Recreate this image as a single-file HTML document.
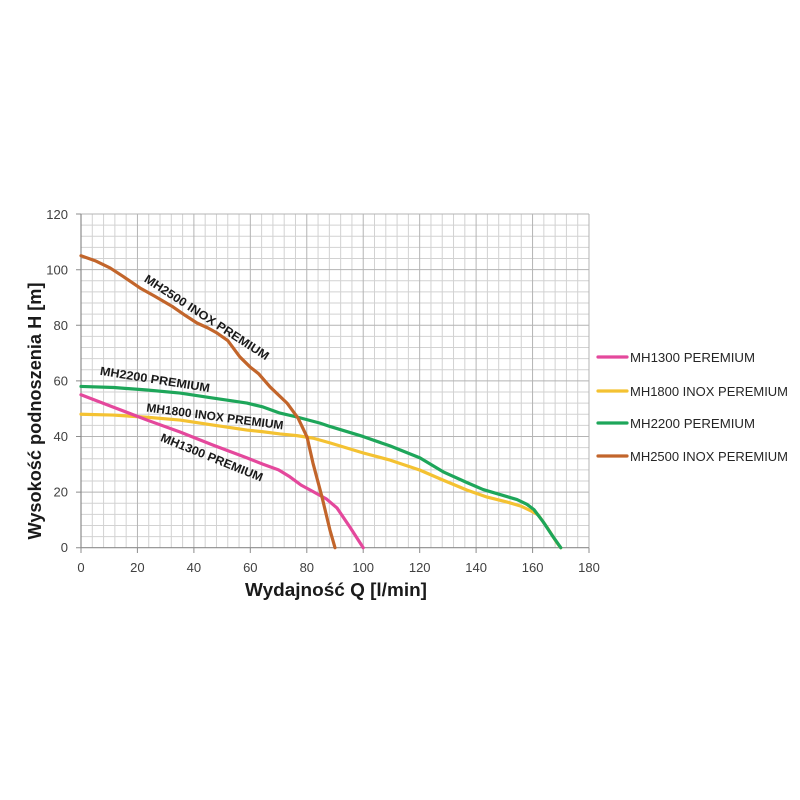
<!DOCTYPE html>
<html>
<head>
<meta charset="utf-8">
<style>
html,body{margin:0;padding:0;background:#fff;}
svg{display:block;}
text{font-family:"Liberation Sans",sans-serif;}
</style>
</head>
<body>
<svg width="800" height="800" viewBox="0 0 800 800" xmlns="http://www.w3.org/2000/svg">
<rect width="800" height="800" fill="#fff"/>
<!-- grid -->
<g transform="translate(81,547.7) scale(2.8222,-2.7808)">
  <g stroke="#d2d2d2" stroke-width="1" vector-effect="non-scaling-stroke" fill="none">
    <path vector-effect="non-scaling-stroke" d="M4 0V120M8 0V120M12 0V120M16 0V120M24 0V120M28 0V120M32 0V120M36 0V120M44 0V120M48 0V120M52 0V120M56 0V120M64 0V120M68 0V120M72 0V120M76 0V120M84 0V120M88 0V120M92 0V120M96 0V120M104 0V120M108 0V120M112 0V120M116 0V120M124 0V120M128 0V120M132 0V120M136 0V120M144 0V120M148 0V120M152 0V120M156 0V120M164 0V120M168 0V120M172 0V120M176 0V120"/>
    <path vector-effect="non-scaling-stroke" d="M0 4H180M0 8H180M0 12H180M0 16H180M0 24H180M0 28H180M0 32H180M0 36H180M0 44H180M0 48H180M0 52H180M0 56H180M0 64H180M0 68H180M0 72H180M0 76H180M0 84H180M0 88H180M0 92H180M0 96H180M0 104H180M0 108H180M0 112H180M0 116H180"/>
  </g>
  <g stroke="#b4b4b4" fill="none">
    <path vector-effect="non-scaling-stroke" stroke-width="1" d="M20 0V120M40 0V120M60 0V120M80 0V120M100 0V120M120 0V120M140 0V120M160 0V120M180 0V120"/>
    <path vector-effect="non-scaling-stroke" stroke-width="1" d="M0 20H180M0 40H180M0 60H180M0 80H180M0 100H180M0 120H180"/>
  </g>
  <g stroke="#8c8c8c" fill="none">
    <path vector-effect="non-scaling-stroke" stroke-width="1.2" d="M0 0V120M0 0H180"/>
  </g>
</g>
<!-- ticks -->
<g stroke="#8c8c8c" stroke-width="1">
  <path d="M76 547.7H81M76 492.1H81M76 436.5H81M76 380.9H81M76 325.3H81M76 269.7H81M76 214H81"/>
  <path d="M81 547.7V553M137.4 547.7V553M193.9 547.7V553M250.3 547.7V553M306.8 547.7V553M363.2 547.7V553M419.7 547.7V553M476.1 547.7V553M532.6 547.7V553M589 547.7V553"/>
</g>
<!-- y tick labels -->
<g fill="#404040" font-size="13" text-anchor="end">
  <text x="68" y="552">0</text>
  <text x="68" y="496.5">20</text>
  <text x="68" y="441">40</text>
  <text x="68" y="385.5">60</text>
  <text x="68" y="330">80</text>
  <text x="68" y="274.5">100</text>
  <text x="68" y="219">120</text>
</g>
<!-- x tick labels -->
<g fill="#404040" font-size="13" text-anchor="middle">
  <text x="81" y="572">0</text>
  <text x="137.4" y="572">20</text>
  <text x="193.9" y="572">40</text>
  <text x="250.3" y="572">60</text>
  <text x="306.8" y="572">80</text>
  <text x="363.2" y="572">100</text>
  <text x="419.7" y="572">120</text>
  <text x="476.1" y="572">140</text>
  <text x="532.6" y="572">160</text>
  <text x="589" y="572">180</text>
</g>
<!-- axis titles -->
<text x="336" y="596" text-anchor="middle" font-size="18" font-weight="bold" fill="#1a1a1a" textLength="182" lengthAdjust="spacingAndGlyphs">Wydajność Q [l/min]</text>
<text transform="translate(41,411) rotate(-90)" x="0" y="0" text-anchor="middle" font-size="18" font-weight="bold" fill="#1a1a1a" textLength="257" lengthAdjust="spacingAndGlyphs">Wysokość podnoszenia H [m]</text>
<!-- series -->
<g transform="translate(81,547.7) scale(2.8222,-2.7808)" fill="none" stroke-linejoin="round" stroke-linecap="round">
  <polyline vector-effect="non-scaling-stroke" stroke="#f4c232" stroke-width="3.2" points="0,48 11.3,47.7 23.4,46.9 35.1,45.9 46.8,44.1 58.8,42.3 64.5,41.7 70.5,40.9 76.5,40.3 82.2,39.4 88.2,37.7 99.9,34.1 109.5,31.5 120.1,27.9 128.3,24.3 136.8,20.7 143.9,18.2 151,16.4 156,14.9 159.5,13.2 162,11.8 165.1,7.4 168.7,1.7 170,0"/>
  <polyline vector-effect="non-scaling-stroke" stroke="#1ea65a" stroke-width="3.2" points="0,58 11.7,57.6 23.4,56.7 35.1,55.6 46.8,53.8 58.8,52 64.5,50.6 70.5,48.4 76.5,47 84.7,44.8 88.2,43.6 99.9,40 109.5,36.6 120.1,32.3 128.3,27.3 136.8,23.4 142.5,20.9 148.5,19.1 154.5,17.3 158,15.6 160.5,13.7 163.7,9.4 167.3,3.9 170,0"/>
  <polyline vector-effect="non-scaling-stroke" stroke="#e4489c" stroke-width="3.2" points="0,55 11.3,50.6 23.4,45.9 35.1,41.6 46.8,36.9 58.8,32.3 64.5,30 70,28 74,25.5 78,22.5 82,20.3 87,17.5 90.7,14.3 95.3,7.4 100,0"/>
  <polyline vector-effect="non-scaling-stroke" stroke="#c2652b" stroke-width="3.2" points="0,105 5,103.2 10.3,100.6 15,97.5 20.9,93.4 26,90.5 32.6,86.6 37,83.5 41.1,80.8 45,79 48.2,77.2 52,74.5 56.3,68.6 59.9,65 63,62.5 67,57.8 73,52 76.9,46.6 80.1,39.8 82.2,30.4 85.4,18.2 88.2,6.4 90,0"/>
</g>
<!-- annotations -->
<g fill="#1a1a1a" font-size="12" font-weight="bold" text-anchor="middle">
  <text transform="translate(207,317) rotate(33)" x="0" y="4.5" textLength="146" lengthAdjust="spacingAndGlyphs">MH2500 INOX PREMIUM</text>
  <text transform="translate(155,379) rotate(9)" x="0" y="4.5" textLength="111" lengthAdjust="spacingAndGlyphs">MH2200 PREMIUM</text>
  <text transform="translate(215,416) rotate(7.5)" x="0" y="4.5" textLength="138" lengthAdjust="spacingAndGlyphs">MH1800 INOX PREMIUM</text>
  <text transform="translate(212,457) rotate(22)" x="0" y="4.5" textLength="109" lengthAdjust="spacingAndGlyphs">MH1300 PREMIUM</text>
</g>
<!-- legend -->
<g stroke-width="3.2" stroke-linecap="round">
  <line x1="598" y1="357" x2="627" y2="357" stroke="#e4489c"/>
  <line x1="598" y1="391" x2="627" y2="391" stroke="#f4c232"/>
  <line x1="598" y1="423" x2="627" y2="423" stroke="#1ea65a"/>
  <line x1="598" y1="456" x2="627" y2="456" stroke="#c2652b"/>
</g>
<g fill="#262626" font-size="13">
  <text x="630" y="362" textLength="125" lengthAdjust="spacingAndGlyphs">MH1300 PEREMIUM</text>
  <text x="630" y="396" textLength="158" lengthAdjust="spacingAndGlyphs">MH1800 INOX PEREMIUM</text>
  <text x="630" y="428" textLength="125" lengthAdjust="spacingAndGlyphs">MH2200 PEREMIUM</text>
  <text x="630" y="461" textLength="158" lengthAdjust="spacingAndGlyphs">MH2500 INOX PEREMIUM</text>
</g>
</svg>
</body>
</html>
